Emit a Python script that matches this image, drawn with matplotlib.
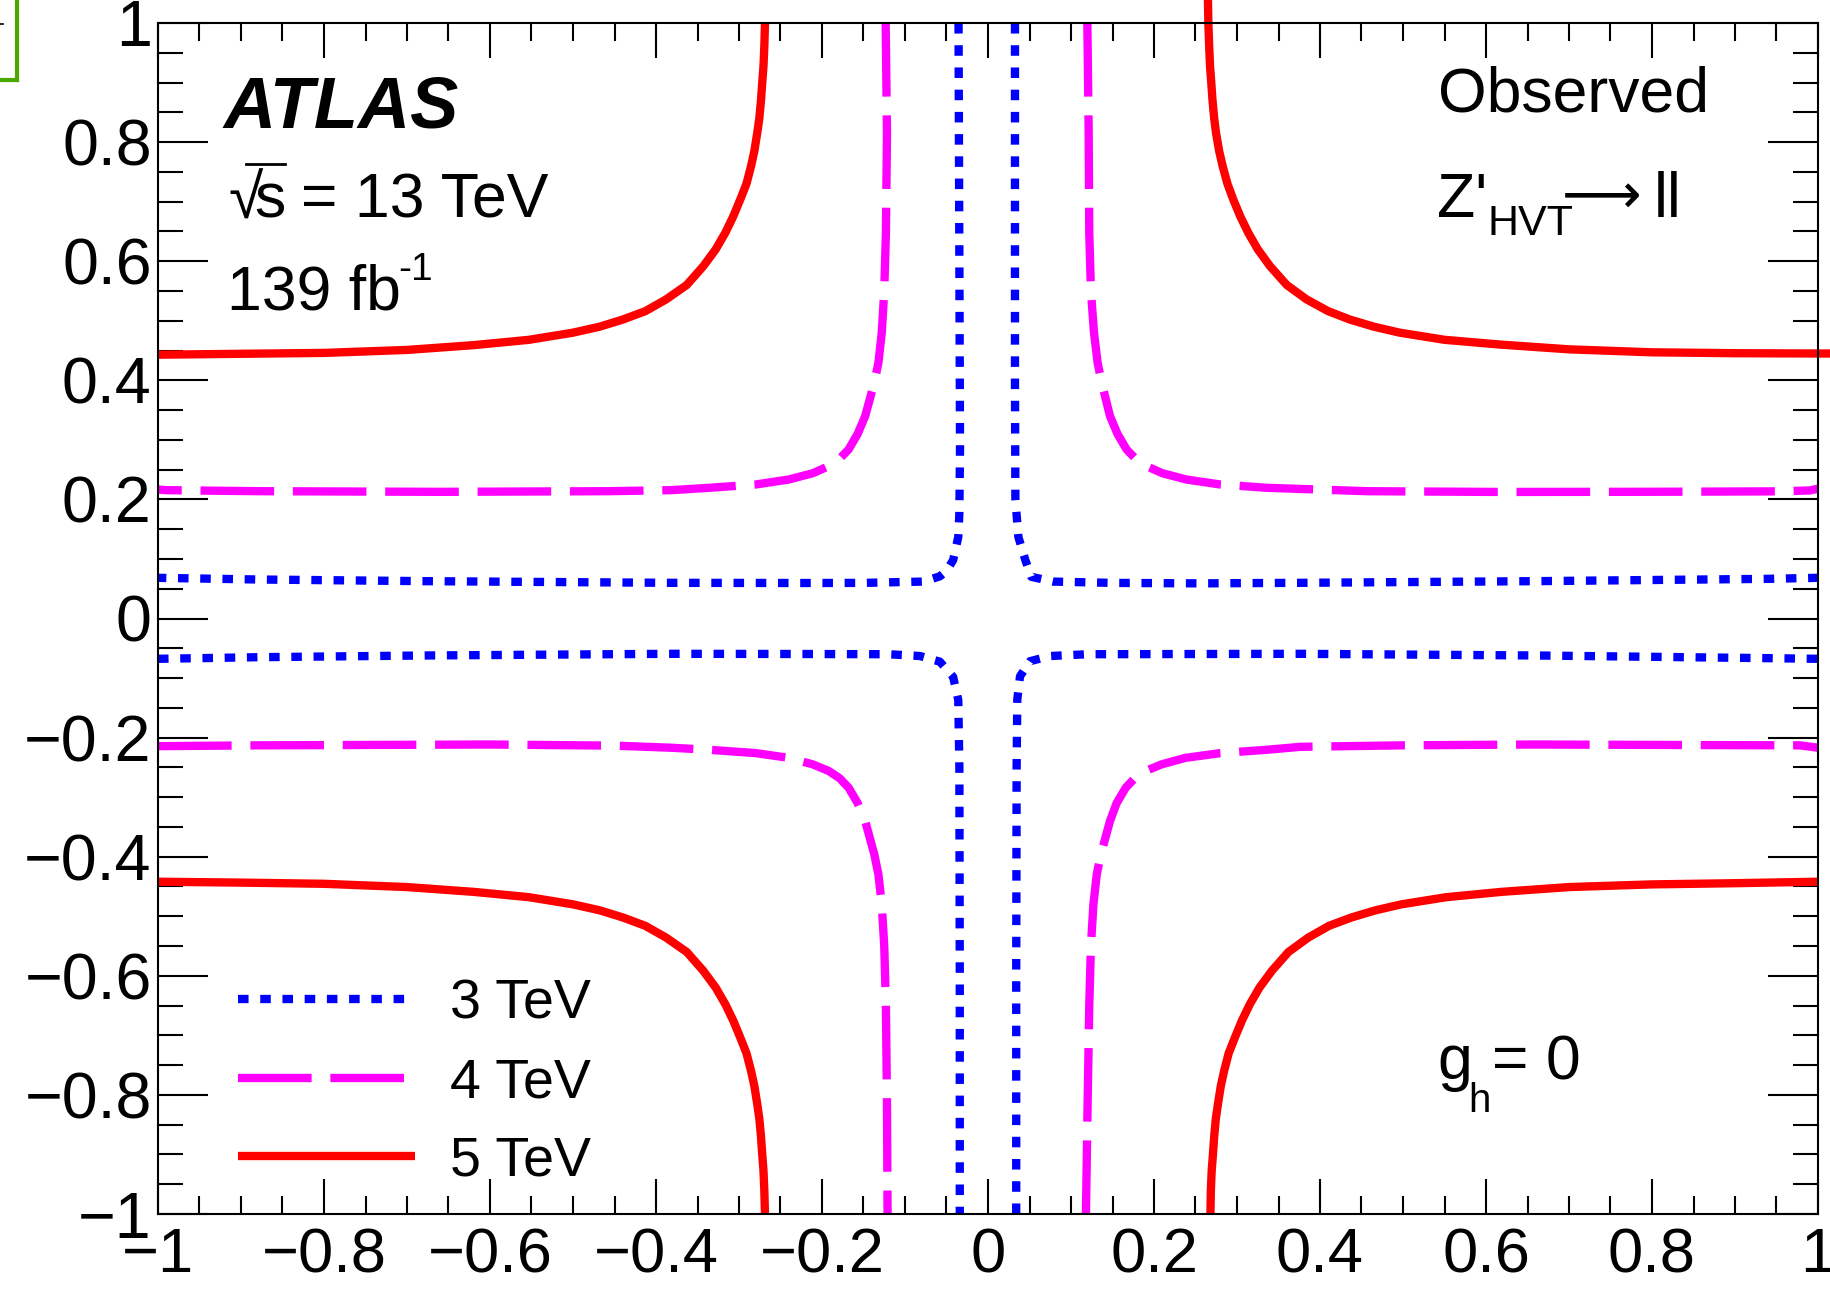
import matplotlib
matplotlib.use("Agg")
import matplotlib.pyplot as plt
from matplotlib.lines import Line2D
from matplotlib.ticker import MultipleLocator, FixedLocator

plt.rcParams['font.family'] = ['Liberation Sans', 'DejaVu Sans']
plt.rcParams['mathtext.fontset'] = 'custom'
plt.rcParams['mathtext.rm'] = 'Liberation Sans'
plt.rcParams['mathtext.it'] = 'Liberation Sans:italic'
plt.rcParams['mathtext.bf'] = 'Liberation Sans:bold'
plt.rcParams['lines.scale_dashes'] = False

# ---------------- data ----------------
masses = ["3 TeV", "4 TeV", "5 TeV"]

# 3 TeV (blue, dotted)
blue_ul_x = [-0.0355, -0.0345, -0.0337, -0.0345, -0.0358, -0.042, -0.050, -0.058, -0.078, -0.15, -0.2265, -0.382, -0.678, -0.88, -1.0]
blue_ul_y = [1.0, 0.6, 0.288, 0.177, 0.137, 0.098, 0.080, 0.0708, 0.062, 0.0598, 0.0596, 0.0599, 0.0627, 0.0655, 0.0683]
blue_ur_x = [0.0325, 0.0325, 0.033, 0.0366, 0.045, 0.0522, 0.078, 0.15, 0.2554, 0.376, 0.66, 0.94, 1.0]
blue_ur_y = [1.0, 0.4, 0.2, 0.137, 0.098, 0.070, 0.062, 0.0598, 0.059, 0.0599, 0.0627, 0.0666, 0.0683]
blue_ll_x = [-1.0, -0.88, -0.678, -0.382, -0.2265, -0.12, -0.082, -0.058, -0.042, -0.0358, -0.0345, -0.034, -0.034]
blue_ll_y = [-0.0677, -0.065, -0.0621, -0.0593, -0.0596, -0.060, -0.063, -0.0725, -0.098, -0.137, -0.249, -0.6, -1.0]
blue_lr_x = [0.034, 0.034, 0.0345, 0.0353, 0.0386, 0.0506, 0.075, 0.12, 0.376, 0.66, 0.94, 1.0]
blue_lr_y = [-1.0, -0.6, -0.248, -0.136, -0.097, -0.0717, -0.063, -0.060, -0.0593, -0.0621, -0.0666, -0.0677]

# 4 TeV (magenta, dashed)
mag_ul_x = [-0.1233, -0.1217, -0.123, -0.125, -0.128, -0.132, -0.137, -0.148, -0.157, -0.168, -0.179, -0.192, -0.211, -0.24, -0.28, -0.3358, -0.382, -0.456, -0.66, -0.88, -0.99, -1.0]
mag_ul_y = [1.0, 0.8156, 0.6477, 0.55, 0.48, 0.43, 0.3958, 0.3398, 0.31, 0.2838, 0.268, 0.2558, 0.244, 0.2334, 0.225, 0.2195, 0.2155, 0.2138, 0.2127, 0.2138, 0.2155, 0.2166]
mag_ur_x = [0.1197, 0.1213, 0.122, 0.124, 0.1277, 0.132, 0.137, 0.147, 0.156, 0.167, 0.178, 0.191, 0.21, 0.239, 0.28, 0.3358, 0.456, 0.617, 0.80, 0.95, 0.99, 1.0]
mag_ur_y = [1.0, 0.8156, 0.6477, 0.55, 0.48, 0.43, 0.3958, 0.3398, 0.31, 0.2838, 0.268, 0.2558, 0.244, 0.2334, 0.225, 0.2195, 0.2138, 0.2125, 0.2128, 0.2135, 0.215, 0.218]
mag_ll_x = [-1.0, -0.88, -0.6, -0.45, -0.382, -0.3358, -0.28, -0.24, -0.211, -0.192, -0.179, -0.168, -0.157, -0.148, -0.137, -0.132, -0.128, -0.125, -0.123, -0.1217, -0.121]
mag_ll_y = [-0.2144, -0.213, -0.2116, -0.2135, -0.217, -0.2205, -0.226, -0.234, -0.245, -0.256, -0.268, -0.284, -0.31, -0.34, -0.396, -0.43, -0.48, -0.55, -0.65, -0.8156, -1.0]
mag_lr_x = [0.118, 0.12, 0.122, 0.124, 0.127, 0.131, 0.136, 0.147, 0.155, 0.166, 0.177, 0.19, 0.209, 0.238, 0.28, 0.3358, 0.376, 0.5, 0.657, 0.85, 0.978, 1.0]
mag_lr_y = [-1.0, -0.8156, -0.65, -0.55, -0.48, -0.43, -0.396, -0.34, -0.31, -0.284, -0.268, -0.256, -0.245, -0.234, -0.226, -0.2205, -0.2155, -0.213, -0.2116, -0.2125, -0.213, -0.217]

# 5 TeV (red, solid)
red_ur_x = [0.265, 0.2655, 0.2665, 0.2675, 0.269, 0.2705, 0.2725, 0.2747, 0.2785, 0.2827, 0.2885, 0.2955, 0.304, 0.3136, 0.325, 0.3398, 0.36, 0.384, 0.41, 0.436, 0.465, 0.496, 0.55, 0.617, 0.70, 0.80, 0.90, 1.0, 1.016]
red_ur_y = [1.039, 1.0, 0.96, 0.9275, 0.90, 0.87, 0.84, 0.8156, 0.785, 0.7596, 0.73, 0.7036, 0.675, 0.6477, 0.62, 0.5916, 0.56, 0.5357, 0.516, 0.502, 0.49, 0.480, 0.468, 0.460, 0.452, 0.447, 0.4455, 0.445, 0.445]
red_ul_x = [-0.2687, -0.2695, -0.2705, -0.272, -0.2735, -0.2755, -0.278, -0.2815, -0.2855, -0.291, -0.2985, -0.307, -0.3165, -0.328, -0.343, -0.363, -0.388, -0.413, -0.44, -0.468, -0.5, -0.553, -0.62, -0.70, -0.80, -0.90, -1.0]
red_ul_y = [1.0, 0.96, 0.9275, 0.90, 0.87, 0.84, 0.8156, 0.785, 0.7596, 0.73, 0.7036, 0.675, 0.6477, 0.62, 0.5916, 0.56, 0.5357, 0.516, 0.502, 0.49, 0.480, 0.468, 0.459, 0.451, 0.446, 0.4445, 0.443]
red_ll_x = [-1.0, -0.90, -0.80, -0.70, -0.62, -0.553, -0.5, -0.468, -0.44, -0.413, -0.388, -0.363, -0.343, -0.328, -0.3165, -0.307, -0.2985, -0.291, -0.2855, -0.2815, -0.278, -0.2755, -0.2735, -0.272, -0.2705, -0.2695, -0.2687]
red_ll_y = [-0.442, -0.4435, -0.4455, -0.451, -0.459, -0.468, -0.480, -0.49, -0.502, -0.516, -0.5357, -0.56, -0.5916, -0.62, -0.6477, -0.675, -0.7036, -0.73, -0.7596, -0.785, -0.8156, -0.84, -0.87, -0.90, -0.9275, -0.96, -1.0]
red_lr_x = [0.268, 0.2685, 0.2695, 0.271, 0.2725, 0.2745, 0.277, 0.2805, 0.2845, 0.29, 0.2975, 0.306, 0.3155, 0.327, 0.342, 0.362, 0.386, 0.411, 0.438, 0.467, 0.498, 0.552, 0.619, 0.70, 0.80, 0.90, 1.0]
red_lr_y = [-1.0, -0.96, -0.9275, -0.90, -0.87, -0.84, -0.8156, -0.785, -0.7596, -0.73, -0.7036, -0.675, -0.6477, -0.62, -0.5916, -0.56, -0.5357, -0.516, -0.502, -0.49, -0.480, -0.468, -0.459, -0.451, -0.4465, -0.4445, -0.442]

x_ticks = [-1, -0.8, -0.6, -0.4, -0.2, 0, 0.2, 0.4, 0.6, 0.8, 1]
x_ticklabels = ["\u22121", "\u22120.8", "\u22120.6", "\u22120.4", "\u22120.2", "0", "0.2", "0.4", "0.6", "0.8", "1"]
y_ticks = x_ticks
y_ticklabels = x_ticklabels

# ---------------- figure ----------------
W, H = 1831, 1301
fig = plt.figure(figsize=(W / 100, H / 100), dpi=100)
ax = fig.add_axes([158 / W, (H - 1214) / H, 1660 / W, 1191 / H])
ax.set_xlim(-1, 1)
ax.set_ylim(-1, 1)

lw = 6.0
blue_style = dict(color=(0, 0, 1), lw=lw, linestyle=(0, (7.6, 8.4)), dash_capstyle='butt')
mag_style = dict(color=(1, 0, 1), lw=lw, linestyle=(0, (53, 13.5)), dash_capstyle='butt')
red_style = dict(color=(1, 0, 0), lw=lw, linestyle='-', solid_capstyle='butt', solid_joinstyle='round')

h3, = ax.plot(blue_ul_x, blue_ul_y, **blue_style)
ax.plot(blue_ur_x, blue_ur_y, **blue_style)
ax.plot(blue_ll_x, blue_ll_y, **blue_style)
ax.plot(blue_lr_x, blue_lr_y, **blue_style)

h4, = ax.plot(mag_ul_x, mag_ul_y, **mag_style)
ax.plot(mag_ur_x, mag_ur_y, **mag_style)
ax.plot(mag_ll_x, mag_ll_y, **mag_style)
ax.plot(mag_lr_x, mag_lr_y, **mag_style)

h5, = ax.plot(red_ul_x, red_ul_y, **red_style)
ax.plot(red_ur_x, red_ur_y, clip_on=False, **red_style)
ax.plot(red_ll_x, red_ll_y, **red_style)
ax.plot(red_lr_x, red_lr_y, **red_style)

# ---------------- axes styling (ROOT-like) ----------------
for s in ax.spines.values():
    s.set_linewidth(1.5)
    s.set_zorder(5)
ax.xaxis.set_major_locator(FixedLocator(x_ticks))
ax.yaxis.set_major_locator(FixedLocator(y_ticks))
ax.set_xticklabels(x_ticklabels)
ax.set_yticklabels(y_ticklabels)
ax.xaxis.set_minor_locator(MultipleLocator(0.05))
ax.yaxis.set_minor_locator(MultipleLocator(0.05))
ax.tick_params(axis='both', which='both', direction='in', top=True, right=True, width=1.5, colors='black')
ax.tick_params(axis='x', which='major', length=25.5, pad=9, labelsize=45.5)
ax.tick_params(axis='x', which='minor', length=13)
ax.tick_params(axis='y', which='major', length=36, pad=4.5, labelsize=46.5)
ax.tick_params(axis='y', which='minor', length=18)

# ---------------- texts ----------------
def fx(px):
    return (px - 158) / 1660.0

def fy(py):
    return (1214 - py) / 1191.0

def txt(px, py, s, size, **kw):
    return ax.text(fx(px), fy(py), s, transform=ax.transAxes, fontsize=size,
                   ha='left', va='baseline', **kw)

txt(223, 128, "ATLAS", 52, fontweight='bold', fontstyle='italic')
txt(228, 219, "\u221A", 45)
txt(254, 217, "s", 45)
txt(301, 217, "= 13 TeV", 45)
fig.add_artist(Line2D([246 / W, 285 / W], [1 - 164 / H, 1 - 164 / H], color='black', lw=2.0))
txt(227, 309, "139 fb", 45)
txt(398, 280, "-1", 28)

txt(1438, 112, "Observed", 45)
txt(1437, 217, "Z'", 45)
txt(1488, 235, "HVT", 31)
ax.text(fx(1602), fy(198), "\u27F6", transform=ax.transAxes, fontsize=40,
        ha='center', va='center', family='DejaVu Sans')
txt(1654, 217, "ll", 45)

txt(1437, 1079, "g", 45)
txt(1468, 1112, "h", 29)
txt(1492, 1079, "= 0", 45)

# ---------------- legend ----------------
ax.legend([h3, h4, h5], masses, loc='center left', bbox_to_anchor=(fx(238), fy(1083)),
          frameon=False, fontsize=40, handlelength=3.18, handletextpad=0.63,
          labelspacing=0.48, borderpad=0, borderaxespad=0)

# fragment of neighbouring panel frame (top-left corner)
fig.add_artist(Line2D([17 / W, 17 / W], [1.0, 1 - 80 / H], color='#4aa800', lw=3.0))
fig.add_artist(Line2D([0, 17 / W], [1 - 80 / H, 1 - 80 / H], color='#4aa800', lw=3.0))
fig.add_artist(Line2D([0, 3 / W], [1 - 24 / H, 1 - 24 / H], color='black', lw=1.2))

fig.savefig("out.png", dpi=100)
